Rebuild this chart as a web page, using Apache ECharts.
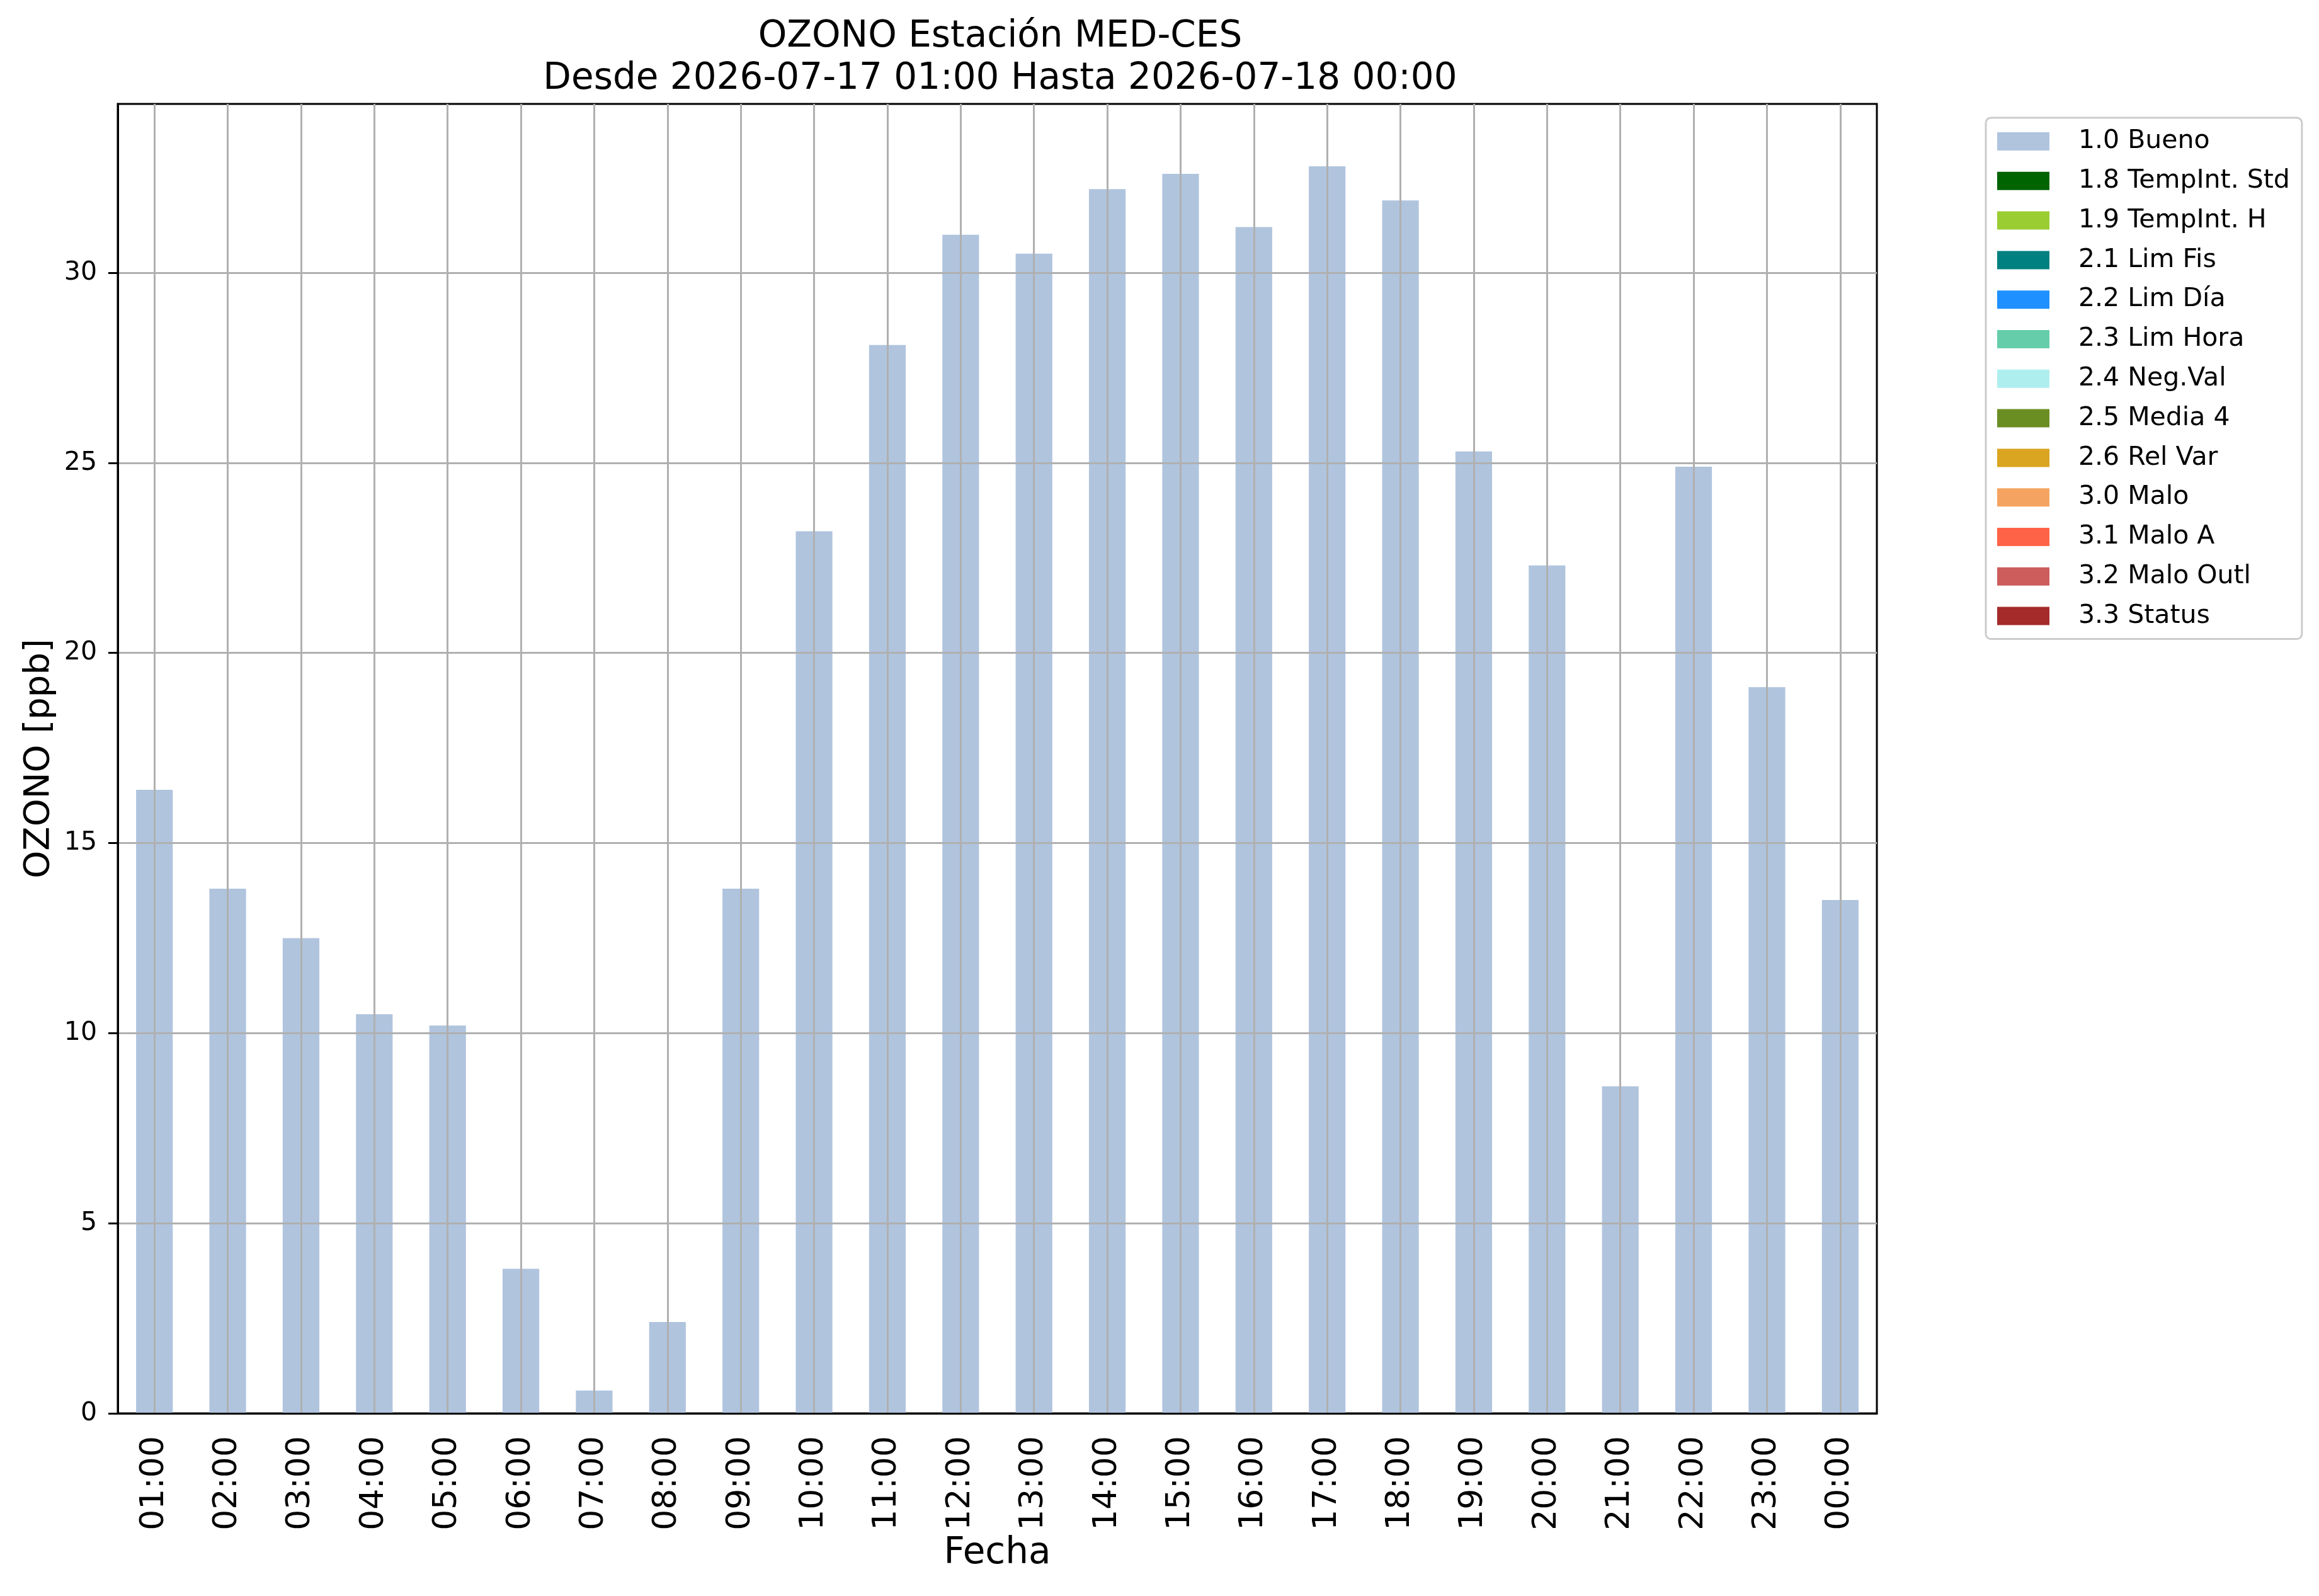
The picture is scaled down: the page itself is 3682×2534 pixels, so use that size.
<!DOCTYPE html>
<html>
<head>
<meta charset="utf-8">
<title>OZONO Estación MED-CES</title>
<script src="https://cdn.jsdelivr.net/npm/echarts@6/dist/echarts.min.js"></script>
<style>
    html, body { margin: 0; padding: 0; background: #fff; }
    #chart { width: 3682px; height: 2534px; }
</style>
</head>
<body>
<div id="chart"></div>
<script>
    // horas del periodo
    var horas = ['01:00', '02:00', '03:00', '04:00', '05:00', '06:00', '07:00', '08:00',
        '09:00', '10:00', '11:00', '12:00', '13:00', '14:00', '15:00', '16:00',
        '17:00', '18:00', '19:00', '20:00', '21:00', '22:00', '23:00', '00:00'];

    // valores de ozono [ppb], todos con bandera 1.0 Bueno
    var bueno = [16.4, 13.8, 12.5, 10.5, 10.2, 3.8, 0.6, 2.4,
        13.8, 23.2, 28.1, 31.0, 30.5, 32.2, 32.6, 31.2,
        32.8, 31.9, 25.3, 22.3, 8.6, 24.9, 19.1, 13.5];

    // banderas de calidad y sus colores
    var banderas = ['1.0 Bueno', '1.8 TempInt. Std', '1.9 TempInt. H', '2.1 Lim Fis',
        '2.2 Lim Día', '2.3 Lim Hora', '2.4 Neg.Val', '2.5 Media 4', '2.6 Rel Var',
        '3.0 Malo', '3.1 Malo A', '3.2 Malo Outl', '3.3 Status'];
    var colores = ['#B0C4DE', '#006400', '#9ACD32', '#008080', '#1E90FF', '#66CDAA',
        '#AFEEEE', '#6B8E23', '#DAA520', '#F4A460', '#FF6347', '#CD5C5C', '#A52A2A'];

    var yTicks = [0, 5, 10, 15, 20, 25, 30];
    var yMax = 34.44;

    var fuente = 'DejaVu Sans';
    var chart = echarts.init(document.getElementById('chart'), null, {renderer: 'canvas'});

    var series = banderas.map(function (nombre, i) {
        var s = {
            name: nombre,
            type: 'bar',
            stack: 'flag',
            barWidth: '50%',
            itemStyle: {color: colores[i]},
            data: i === 0 ? bueno : []
        };
        if (i === 0) {
            // lineas verticales de la rejilla, encima de las barras
            s.markLine = {
                silent: true,
                symbol: ['none', 'none'],
                label: {show: false},
                lineStyle: {color: '#b0b0b0', width: 3, type: 'solid'},
                data: horas.map(function (h) { return {xAxis: h}; })
            };
        }
        return s;
    });

    chart.setOption({
        animation: false,
        backgroundColor: '#fff',
        textStyle: {fontFamily: fuente},
        title: {
            text: 'OZONO Estación MED-CES\nDesde 2026-07-17 01:00 Hasta 2026-07-18 00:00',
            left: 1583,
            top: 20,
            textAlign: 'center',
            textStyle: {fontFamily: fuente, fontSize: 58, fontWeight: 'normal', color: '#000', lineHeight: 67}
        },
        legend: {
            orient: 'vertical',
            left: 3153,
            top: 187,
            selectedMode: false,
            icon: 'rect',
            itemWidth: 83,
            itemHeight: 29,
            itemGap: 21.8,
            padding: [17, 19, 16, 18],
            backgroundColor: '#fff',
            borderColor: '#cccccc',
            borderWidth: 3,
            borderRadius: 8,
            textStyle: {fontFamily: fuente, fontSize: 41, color: '#000', padding: [0, 0, 0, 41]},
            data: banderas
        },
        grid: {
            left: 187, right: 702, top: 165, bottom: 290,
            show: true, borderColor: '#000', borderWidth: 3, backgroundColor: 'transparent'
        },
        xAxis: {
            type: 'category',
            data: horas,
            z: 5,
            name: 'Fecha',
            nameLocation: 'middle',
            nameGap: 190,
            nameTextStyle: {fontFamily: fuente, fontSize: 58, color: '#000'},
            axisLine: {lineStyle: {color: '#000', width: 3}},
            axisTick: {alignWithLabel: true, length: 15, lineStyle: {color: '#000', width: 3}},
            axisLabel: {rotate: 90, fontSize: 52, color: '#000', margin: 36, interval: 0},
            splitLine: {show: false}
        },
        yAxis: {
            type: 'value',
            min: 0,
            max: yMax,
            interval: 5,
            z: 5,
            name: 'OZONO [ppb]',
            nameLocation: 'middle',
            nameGap: 95,
            nameTextStyle: {fontFamily: fuente, fontSize: 56, color: '#000'},
            axisLine: {show: true, lineStyle: {color: '#000', width: 3}},
            axisTick: {show: true, length: 15, customValues: yTicks, lineStyle: {color: '#000', width: 3}},
            axisLabel: {fontSize: 41, color: '#000', margin: 33, customValues: yTicks},
            splitLine: {show: true, lineStyle: {color: '#b0b0b0', width: 3}}
        },
        series: series
    });
</script>
</body>
</html>
